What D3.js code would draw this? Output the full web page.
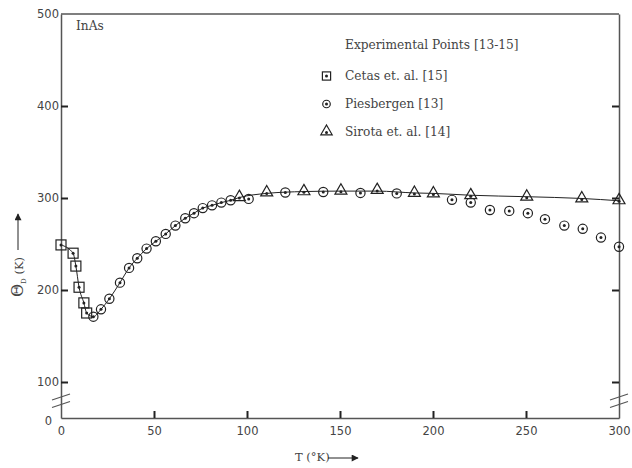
<!DOCTYPE html>
<html>
<head>
<meta charset="utf-8">
<script src="https://cdn.jsdelivr.net/npm/d3@7"></script>
<style>
  html, body { margin: 0; padding: 0; background: #fff; }
  svg text { fill: #444; }
</style>
</head>
<body>
<div id="chart"></div>
<script>
const WIDTH = 632;
const HEIGHT = 468;

// data: [T (K), Theta_D (K)]
const cetas = [[0, 249], [6.5, 240], [8, 226], [9.7, 203], [12.3, 186], [13.8, 175]];
const piesbergen = [
  [17.4, 171], [21.5, 179], [26, 190.5], [31.7, 208], [36.6, 224], [41, 234.5],
  [46, 245], [51, 253], [56.3, 261], [61.5, 270], [66.8, 278], [71.5, 283.5],
  [76.2, 289], [81.2, 292], [86.2, 295], [91.2, 297.5], [100.9, 299], [120.6, 306],
  [141, 306.5], [161, 305.5], [180.5, 305], [210.2, 298], [220.3, 295], [230.6, 287],
  [241, 286], [251, 283.5], [260.2, 277], [270.6, 270], [280.5, 266.5], [290.3, 257],
  [300, 247]
];
const sirota = [
  [95.9, 301], [110.6, 306], [130.6, 307.3], [150.5, 308], [170, 308.7], [190, 305.5],
  [200.2, 305], [220.3, 303], [250.4, 301.4], [280, 299.5], [300, 297.5]
];
// solid curve through the points
const curve = [
  [0, 249], [6.5, 240], [8, 226], [9.7, 203], [12.3, 186], [13.8, 175], [17.4, 171],
  [21.5, 179], [26, 190.5], [31.7, 208], [36.6, 224], [41, 234.5], [46, 245], [51, 253],
  [56.3, 261], [61.5, 270], [66.8, 278], [71.5, 283.5], [76.2, 289], [81.2, 292],
  [86.2, 295], [91.2, 297.5], [95.9, 300.5], [110.6, 305], [130.6, 307], [150.5, 307.5],
  [170, 307.5], [190, 305.5], [200.2, 305], [220.3, 303], [250.4, 301.4], [280, 299.5],
  [300, 297]
];

const xTicks = [0, 50, 100, 150, 200, 250, 300];
const yTicks = [0, 100, 200, 300, 400, 500];
const legendItems = ["Cetas et. al. [15]", "Piesbergen [13]", "Sirota et. al. [14]"];

const LEFT = 61, RIGHT = 619, TOP = 14, BOTTOM = 418;

const x = d3.scaleLinear().domain([0, 300]).range([LEFT, RIGHT]);
// broken axis: 0..100 is squeezed
const y = d3.scaleLinear().domain([0, 100, 500]).range([BOTTOM, 382, TOP]);

const svg = d3.select("#chart").append("svg")
  .attr("width", WIDTH)
  .attr("height", HEIGHT);

const INK = "#222";
const AXIS = "#555";
const NUM_FONT = "DejaVu Sans, sans-serif";
const TXT_FONT = "DejaVu Serif, serif";
const TXT_SIZE = "12.2px";

// top border
svg.append("line")
  .attr("x1", LEFT).attr("x2", RIGHT).attr("y1", TOP).attr("y2", TOP)
  .attr("stroke", AXIS).attr("stroke-width", 1.5);

// x axis
const gx = svg.append("g")
  .attr("transform", `translate(0,${BOTTOM})`)
  .call(d3.axisBottom(x).tickValues(xTicks).tickSizeInner(-7).tickSizeOuter(0).tickPadding(9));

// y axis left
const gy = svg.append("g")
  .attr("transform", `translate(${LEFT},0)`)
  .call(d3.axisLeft(y).tickValues(yTicks).tickSizeInner(-7).tickSizeOuter(0).tickPadding(2));

// y axis right, ticks only
const gr = svg.append("g")
  .attr("transform", `translate(${RIGHT},0)`)
  .call(d3.axisRight(y).tickValues([100, 200, 300, 400]).tickSizeInner(-7).tickSizeOuter(0).tickFormat(""));

[gx, gy, gr].forEach(g => {
  g.select(".domain").attr("stroke", AXIS).attr("stroke-width", 1.5);
  g.selectAll(".tick line").attr("stroke", INK).attr("stroke-width", 2);
  g.selectAll(".tick text")
    .attr("fill", "#555")
    .style("font-family", NUM_FONT)
    .style("font-size", "11.5px");
});
gx.selectAll(".tick").filter(d => d === 0 || d === 300).select("line").remove();
gy.selectAll(".tick").filter(d => d === 0 || d === 500).select("line").remove();
gy.selectAll(".tick").filter(d => d === 0).select("text")
  .attr("x", -9).attr("dy", "0.6em");

// axis break marks
[LEFT, RIGHT].forEach(ax => {
  [0, 7.5].forEach(off => {
    svg.append("line")
      .attr("x1", ax - 9).attr("y1", 400 + off)
      .attr("x2", ax + 9).attr("y2", 394 + off)
      .attr("stroke", AXIS).attr("stroke-width", 1.3);
  });
});

// fitted line
const line = d3.line()
  .x(d => x(d[0]))
  .y(d => y(d[1]))
  .curve(d3.curveMonotoneX);

svg.append("path")
  .datum(curve)
  .attr("d", line)
  .attr("fill", "none")
  .attr("stroke", INK)
  .attr("stroke-width", 1);

// markers (k scales the size, legend ones are a little smaller)
function square(g, k = 1) {
  g.append("rect").attr("x", -5 * k).attr("y", -5 * k).attr("width", 10 * k).attr("height", 10 * k)
    .attr("fill", "none").attr("stroke", INK).attr("stroke-width", 1.2);
  g.append("circle").attr("r", 1.5).attr("fill", INK);
}
function ring(g, k = 1) {
  g.append("circle").attr("r", 4.6 * k)
    .attr("fill", "none").attr("stroke", INK).attr("stroke-width", 1.2);
  g.append("circle").attr("r", 1.5).attr("fill", INK);
}
function tri(g, k = 1) {
  g.append("path").attr("d", d3.symbol(d3.symbolTriangle, 62 * k * k)())
    .attr("fill", "none").attr("stroke", INK).attr("stroke-width", 1.2);
  g.append("circle").attr("cy", 1).attr("r", 1.5).attr("fill", INK);
}

const series = [[cetas, square], [piesbergen, ring], [sirota, tri]];
series.forEach(([data, draw]) => {
  svg.append("g").selectAll("g")
    .data(data)
    .join("g")
    .attr("transform", d => `translate(${x(d[0])},${y(d[1])})`)
    .each(function () { draw(d3.select(this)); });
});

// labels
svg.append("text")
  .attr("x", 76).attr("y", 30)
  .style("font-family", TXT_FONT).style("font-size", TXT_SIZE)
  .text("InAs");

svg.append("text")
  .attr("x", 345).attr("y", 49)
  .style("font-family", TXT_FONT).style("font-size", TXT_SIZE)
  .text("Experimental Points [13-15]");

const legendY = [76, 104, 131.5];
const legendK = [0.82, 0.82, 0.95];
legendItems.forEach((name, i) => {
  const g = svg.append("g").attr("transform", `translate(326.5,${legendY[i]})`);
  series[i][1](g, legendK[i]);
  g.append("text")
    .attr("x", 18.5).attr("y", 4)
    .style("font-family", TXT_FONT).style("font-size", TXT_SIZE)
    .text(name);
});

// y title with arrow
const yt = svg.append("text")
  .attr("transform", "translate(23,297) rotate(-90)")
  .style("font-family", TXT_FONT).style("font-size", "11.5px");
yt.append("tspan").style("font-size", "16px").text("Θ");
yt.append("tspan").attr("dy", 3).style("font-size", "7px").text("D");
yt.append("tspan").attr("dy", -3).text(" (K)");

svg.append("defs").append("marker")
  .attr("id", "arr").attr("viewBox", "0 0 10 10")
  .attr("refX", 9).attr("refY", 5)
  .attr("markerWidth", 9).attr("markerHeight", 7)
  .attr("markerUnits", "userSpaceOnUse")
  .attr("orient", "auto")
  .append("path").attr("d", "M0,0L10,5L0,10Z").attr("fill", INK);

svg.append("line")
  .attr("x1", 18).attr("y1", 250).attr("x2", 18).attr("y2", 214)
  .attr("stroke", INK).attr("stroke-width", 1)
  .attr("marker-end", "url(#arr)");

// x title with arrow
svg.append("text")
  .attr("x", 295).attr("y", 461)
  .style("font-family", TXT_FONT).style("font-size", "11.5px")
  .text("T (°K)");

svg.append("line")
  .attr("x1", 328).attr("y1", 458).attr("x2", 358).attr("y2", 458)
  .attr("stroke", INK).attr("stroke-width", 1)
  .attr("marker-end", "url(#arr)");
</script>
</body>
</html>
